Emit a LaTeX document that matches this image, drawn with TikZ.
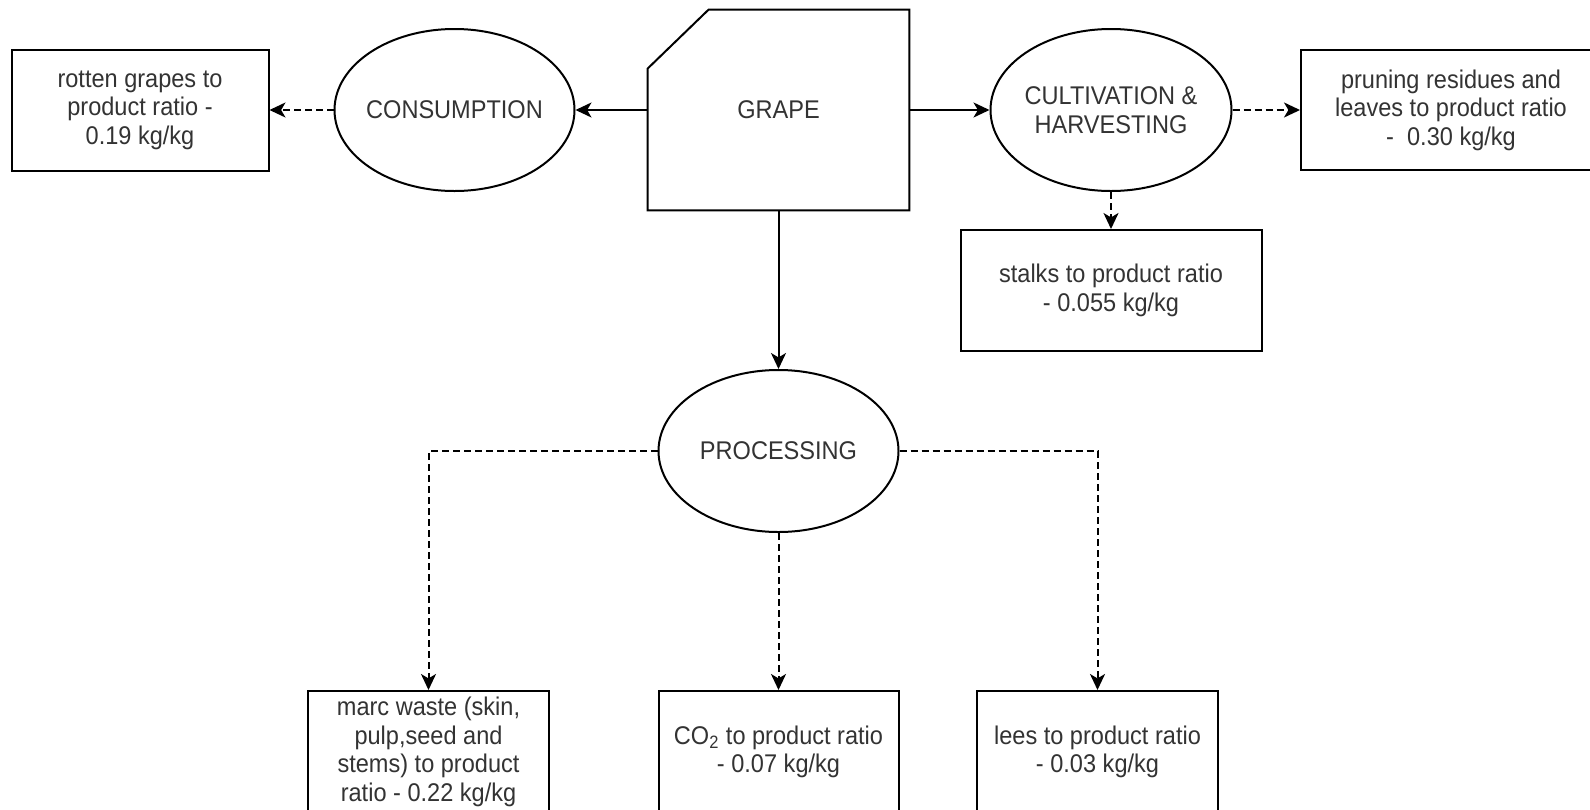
\documentclass[tikz,border=0pt]{standalone}
\usepackage{fontspec}
\setmainfont{Liberation Sans}[FakeStretch=0.92]
\usetikzlibrary{shapes.geometric,arrows.meta,calc}
\tikzset{
  txt/.style={font=\fontsize{12.8}{14.3}\selectfont, text=black!80, align=center, inner sep=0pt},
  wbox/.style={txt, rectangle, draw=black, line width=1pt},
  procshape/.style={ellipse, draw=black, line width=1pt, inner sep=0pt},
  flow/.style={line width=1pt, -{Stealth[length=8pt,width=7.5pt,inset=2.2pt]}},
  waste/.style={flow, dash pattern=on 3.5pt off 2pt},
}
\begin{document}
\begin{tikzpicture}[x=0.5pt,y=-0.5pt]
\useasboundingbox (0,0) rectangle (1590,809);
\clip (0,0) rectangle (1590,809);
\fill[white] (0,0) rectangle (1590,809);

% top row
\node[wbox, minimum width=128.5pt, minimum height=60.5pt] (rot) at (140,110) {rotten grapes to\\product ratio -\\0.19 kg/kg};
\node[procshape, minimum width=120pt, minimum height=81pt] (cons) at (454.5,110) {};
\node[txt] (constxt) at (cons) {CONSUMPTION};

\node[txt, minimum width=130.5pt, minimum height=100pt] (grape) at (778.5,110) {GRAPE};
\draw[line width=1pt, line join=miter]
  (grape.south west) -- ($(grape.north west)+(0,59)$) -- ($(grape.north west)+(61,0)$)
  -- (grape.north east) -- (grape.south east) -- cycle;

\node[procshape, minimum width=120.5pt, minimum height=81pt] (cult) at (1111,110) {};
\node[txt] (culttxt) at (cult) {CULTIVATION \&\\HARVESTING};

\node[wbox, minimum width=150pt, minimum height=60pt] (prun) at (1451,110) {pruning residues and\\leaves to product ratio\\-\ \ 0.30 kg/kg};

\node[wbox, minimum width=150.5pt, minimum height=60.5pt] (stalk) at (1111,290.5) {stalks to product ratio\\- 0.055 kg/kg};

% processing
\node[procshape, minimum width=120pt, minimum height=81pt] (proc) at (778.5,451) {};
\node[txt] (proctxt) at (proc) {PROCESSING};

% bottom row
\node[wbox, minimum width=120.5pt, minimum height=61pt] (marc) at (428.5,752) {marc waste (skin,\\pulp,seed and\\stems) to product\\ratio - 0.22 kg/kg};
\node[wbox, minimum width=120pt, minimum height=61pt] (co2) at (778.5,752) {CO\textsubscript{2} to product ratio\\- 0.07 kg/kg};
\node[wbox, minimum width=120.5pt, minimum height=61pt] (lees) at (1097.5,752) {lees to product ratio\\- 0.03 kg/kg};

% connectors
\draw[flow] (grape.west) -- (cons.east);
\draw[flow] (grape.east) -- (cult.west);
\draw[flow] (grape.south) -- (proc.north);
\draw[waste] (cons.west) -- (rot.east);
\draw[waste] (cult.east) -- (prun.west);
\draw[waste] (cult.south) -- (stalk.north);
\draw[waste] (proc.west) -| (marc.north);
\draw[waste] (proc.south) -- (co2.north);
\draw[waste] (proc.east) -| (lees.north);
\end{tikzpicture}
\end{document}
